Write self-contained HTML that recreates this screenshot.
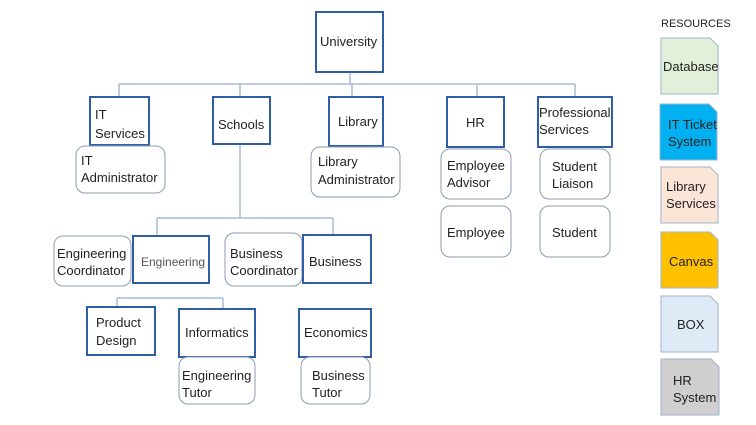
<!DOCTYPE html>
<html><head><meta charset="utf-8"><style>
body{margin:0;background:#fff}
svg{display:block}
text{font-family:"Liberation Sans",sans-serif;font-size:13px;fill:#222}
.b{fill:#fff;stroke:#2f5ea6;stroke-width:2}
.r{fill:#fff;stroke:#8d9bb3;stroke-width:1}
.l{stroke:#a8bbd6;stroke-width:1.5;fill:none}
.d{stroke:#9fb3cc;stroke-width:1}
</style></head><body>
<svg width="756" height="425" viewBox="0 0 756 425">
<path class="l" d="M350 72V84M119 84H575M119 84V97M240 84V97M352 84V97M477 84V97M575 84V97"/>
<path class="l" d="M240 144V218M157 218H333M157 218V236M333 218V235"/>
<path class="l" d="M117 298H223M117 298V307M223 298V309"/>
<rect class="b" x="316" y="12" width="67" height="60"/><text x="320" y="46">University</text>
<rect class="b" x="90" y="97" width="59" height="48"/><text x="95" y="119">IT</text><text x="95" y="138">Services</text>
<rect class="b" x="213" y="97" width="57" height="47"/><text x="218" y="129">Schools</text>
<rect class="b" x="329" y="97" width="54" height="49"/><text x="338" y="126">Library</text>
<rect class="b" x="447" y="97" width="57" height="50"/><text x="466" y="127">HR</text>
<rect class="b" x="538" y="97" width="74" height="50"/><text x="539" y="117">Professional</text><text x="539" y="134">Services</text>
<rect class="r" x="76" y="146" width="89" height="47" rx="9"/><text x="81" y="165">IT</text><text x="81" y="182">Administrator</text>
<rect class="r" x="311" y="147" width="89" height="50" rx="9"/><text x="318" y="166">Library</text><text x="318" y="184">Administrator</text>
<rect class="r" x="441" y="149" width="70" height="50" rx="9"/><text x="447" y="170">Employee</text><text x="447" y="187">Advisor</text>
<rect class="r" x="441" y="206" width="70" height="51" rx="9"/><text x="447" y="237">Employee</text>
<rect class="r" x="540" y="149" width="70" height="50" rx="9"/><text x="552" y="171">Student</text><text x="552" y="188">Liaison</text>
<rect class="r" x="540" y="206" width="70" height="51" rx="9"/><text x="552" y="237">Student</text>
<rect class="r" x="54" y="236" width="77" height="50" rx="9"/><text x="57" y="258">Engineering</text><text x="57" y="275">Coordinator</text>
<rect class="b" x="133" y="236" width="76" height="47"/><text x="141" y="266" style="font-size:12px;fill:#555">Engineering</text>
<rect class="r" x="225" y="233" width="77" height="53" rx="9"/><text x="230" y="258">Business</text><text x="230" y="275">Coordinator</text>
<rect class="b" x="303" y="235" width="68" height="48"/><text x="309" y="266">Business</text>
<rect class="b" x="87" y="307" width="68" height="48"/><text x="96" y="327">Product</text><text x="96" y="345">Design</text>
<rect class="b" x="179" y="309" width="76" height="48"/><text x="185" y="337">Informatics</text>
<rect class="b" x="299" y="309" width="72" height="48"/><text x="304" y="337">Economics</text>
<rect class="r" x="179" y="357" width="76" height="47" rx="9"/><text x="182" y="380">Engineering</text><text x="182" y="397">Tutor</text>
<rect class="r" x="301" y="357" width="69" height="47" rx="9"/><text x="312" y="380">Business</text><text x="312" y="397">Tutor</text>
<text x="661" y="27" style="font-size:11px">RESOURCES</text>
<path class="d" fill="#e2f0d9" d="M661 38H710L718 46V94H661Z"/><text x="663" y="71">Database</text>
<path class="d" fill="#00b0f0" d="M660 104H709L717 112V160H660Z"/><text x="668" y="129">IT Ticket</text><text x="668" y="146">System</text>
<path class="d" fill="#fbe5d6" d="M661 167H710L718 175V223H661Z"/><text x="666" y="191">Library</text><text x="666" y="208">Services</text>
<path class="d" fill="#ffc000" d="M661 232H710L718 240V288H661Z"/><text x="669" y="266">Canvas</text>
<path class="d" fill="#deebf7" d="M661 296H710L718 304V352H661Z"/><text x="677" y="329">BOX</text>
<path class="d" fill="#d0cece" d="M661 359H711L719 367V415H661Z"/><text x="673" y="385">HR</text><text x="673" y="402">System</text>
</svg>
</body></html>
